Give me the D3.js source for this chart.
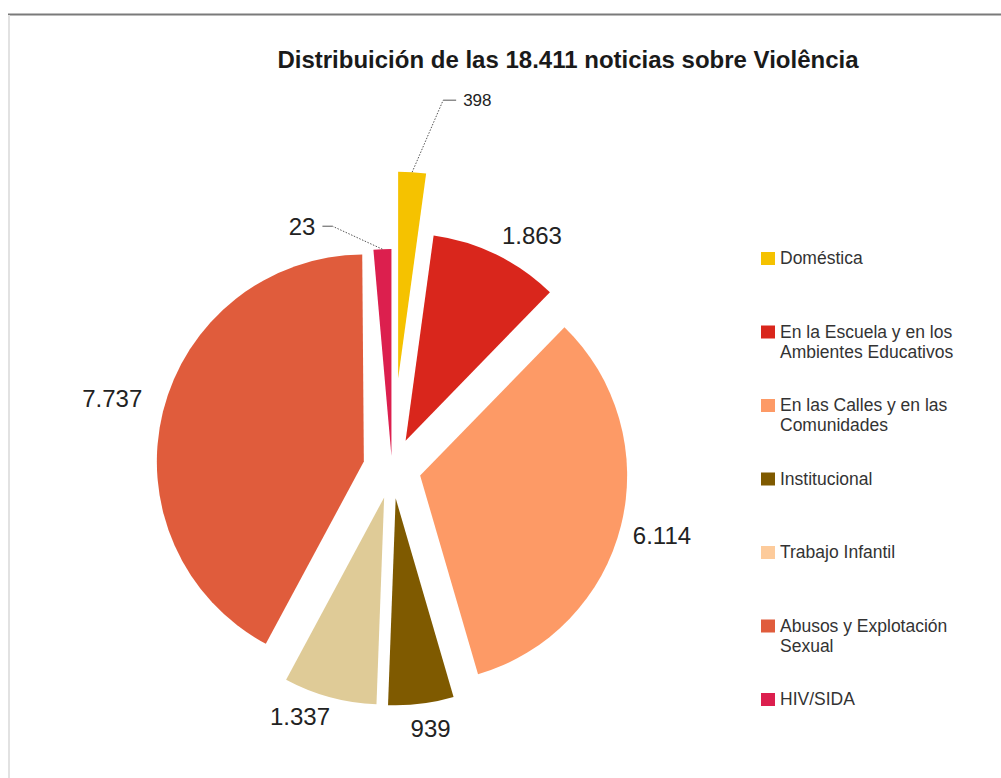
<!DOCTYPE html>
<html>
<head>
<meta charset="utf-8">
<script src="https://cdn.jsdelivr.net/npm/d3@7"></script>
<style>
  body { margin: 0; background: #fff; }
  svg { display: block; font-family: "Liberation Sans", Arial, Helvetica, sans-serif; }
</style>
</head>
<body>
<div id="canvas"></div>
<script>
// data
const categories = ["Doméstica", "En la Escuela y en los Ambientes Educativos", "En las Calles y en las Comunidades",
  "Institucional", "Trabajo Infantil", "Abusos y Explotación Sexual", "HIV/SIDA"];
const legendLines = [["Doméstica"], ["En la Escuela y en los", "Ambientes Educativos"], ["En las Calles y en las", "Comunidades"],
  ["Institucional"], ["Trabajo Infantil"], ["Abusos y Explotación", "Sexual"], ["HIV/SIDA"]];
const values = [398, 1863, 6114, 939, 1337, 7737, 23];

// styles
const sliceColors = ["#f5c200", "#d9261c", "#fd9a66", "#7f5a00", "#dfcb97", "#e05c3c", "#dc1f4e"];
const legendColors = ["#f5c200", "#d9261c", "#fd9a66", "#7f5a00", "#fdcb9b", "#e05c3c", "#dc1f4e"];
const explode = [90, 31, 29, 30, 30, 29, 12.5];
const labelGap = [10, 10, 10, 15, 10, 20, 10];
// small slices get a leader line: elbow offset from the arc point + horizontal run
const leaders = { 0: { dx: 31, dy: -72, run: 13 }, 6: { dx: -50, dy: -23, run: -10 } };

const width = 1001, height = 778;
const cx = 392, cy = 468.5, radius = 207;
const minAngle = 5 * Math.PI / 180;

const fmt = d3.formatLocale({ decimal: ",", thousands: ".", grouping: [3], currency: ["", ""] }).format(",d");

const svg = d3.select("#canvas").append("svg")
  .attr("width", width)
  .attr("height", height);

// frame
svg.append("line").attr("x1", 8).attr("x2", width).attr("y1", 14.5).attr("y2", 14.5)
  .attr("stroke", "#7a7a7a").attr("stroke-width", 2);
svg.append("line").attr("x1", 9).attr("x2", 9).attr("y1", 15).attr("y2", height)
  .attr("stroke", "#e2e2e2").attr("stroke-width", 2);

// title
svg.append("text")
  .attr("x", 568)
  .attr("y", 68)
  .attr("text-anchor", "middle")
  .style("font-size", "24px")
  .style("font-weight", "bold")
  .attr("fill", "#1a1a1a")
  .text("Distribuición de las " + fmt(d3.sum(values)) + " noticias sobre Violência");

const data = values.map((v, i) => ({ name: categories[i], value: v, i: i }));

let arcs = d3.pie().sort(null).value(d => d.value)(data);
// very thin slices are widened so they stay visible
arcs.forEach(a => {
  if (a.endAngle - a.startAngle < minAngle) a.startAngle = a.endAngle - minAngle;
  a.mid = (a.startAngle + a.endAngle) / 2;
  a.ox = explode[a.index] * Math.sin(a.mid);
  a.oy = -explode[a.index] * Math.cos(a.mid);
});

const arc = d3.arc().innerRadius(0).outerRadius(radius);

const g = svg.append("g").attr("transform", "translate(" + cx + "," + cy + ")");

g.selectAll(".slice")
  .data(arcs)
  .enter()
  .append("path")
  .attr("class", "slice")
  .attr("transform", d => "translate(" + d.ox + "," + d.oy + ")")
  .attr("d", arc)
  .attr("fill", d => sliceColors[d.index]);

// value labels
const clamp = v => Math.max(-1, Math.min(1, v));
arcs.forEach(d => {
  const s = Math.sin(d.mid), c = -Math.cos(d.mid);
  const txt = fmt(d.data.value);
  const lead = leaders[d.index];
  if (lead) {
    const px = d.ox + radius * s, py = d.oy + radius * c;
    const ex = px + lead.dx, ey = py + lead.dy;
    g.append("line").attr("x1", px).attr("y1", py).attr("x2", ex).attr("y2", ey)
      .attr("stroke", "#555").attr("stroke-width", 1).attr("stroke-dasharray", "1.5,1.5");
    g.append("line").attr("x1", ex).attr("y1", ey).attr("x2", ex + lead.run).attr("y2", ey)
      .attr("stroke", "#555").attr("stroke-width", 1);
    g.append("text")
      .attr("x", ex + lead.run + (lead.run > 0 ? 7 : -7))
      .attr("y", ey)
      .attr("dy", "0.35em")
      .attr("text-anchor", lead.run > 0 ? "start" : "end")
      .style("font-size", d.index === 0 ? "17px" : "24px")
      .attr("fill", "#222")
      .text(txt);
  } else {
    const gap = labelGap[d.index];
    const px = d.ox + (radius + gap) * s, py = d.oy + (radius + gap) * c;
    const w = txt.length * 12.5, h = 20;
    g.append("text")
      .attr("x", px + w / 2 * clamp(s / 0.3))
      .attr("y", py + h / 2 * clamp(c / 0.3))
      .attr("dy", "0.35em")
      .attr("text-anchor", "middle")
      .style("font-size", "24px")
      .attr("fill", "#222")
      .text(txt);
  }
});

// legend
const legendY = d3.scaleLinear().domain([0, categories.length - 1]).range([258, 699]);

let legend = svg.selectAll(".legend")
  .data(data)
  .enter()
  .append("g")
  .attr("class", "legend")
  .attr("transform", d => "translate(761," + legendY(d.i) + ")");

legend.append("rect")
  .attr("x", 0)
  .attr("y", -6)
  .attr("width", 14)
  .attr("height", 13)
  .attr("fill", d => legendColors[d.i]);

legend.append("text")
  .attr("x", 19)
  .attr("y", 0)
  .style("font-size", "17.5px")
  .attr("fill", "#333")
  .selectAll("tspan")
  .data(d => legendLines[d.i])
  .enter()
  .append("tspan")
  .attr("x", 19)
  .attr("dy", (t, k) => k === 0 ? "0.35em" : "20px")
  .text(t => t);
</script>
</body>
</html>
